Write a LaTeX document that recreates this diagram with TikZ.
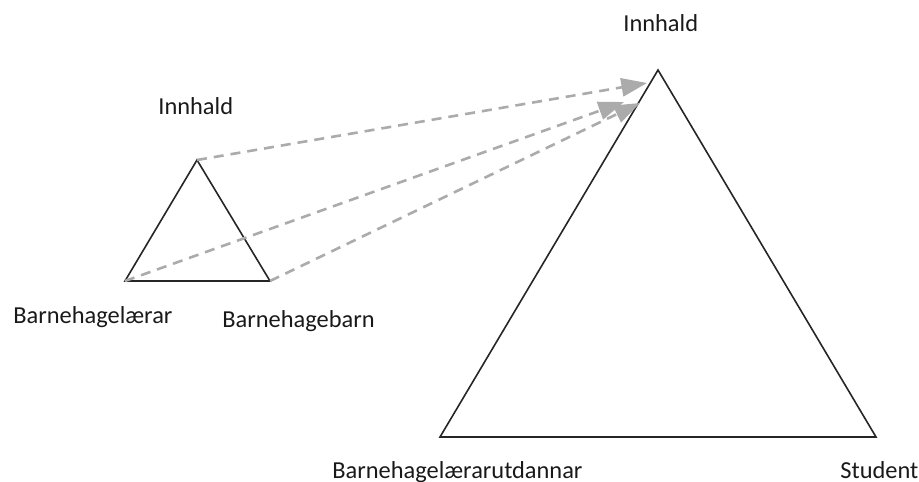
\documentclass[tikz,border=0pt]{standalone}
\usepackage{fontspec}
\setmainfont{Carlito}
\usetikzlibrary{positioning,arrows.meta,calc}
\tikzset{
  tri/.style={draw=black!85, line width=0.8pt, line join=miter},
  link/.style={-{Triangle[length=4.5mm, width=3.2mm]}, line width=1.3pt, dash pattern=on 5pt off 3.5pt, color=black!33},
  lbl/.style={font=\fontsize{12.2}{14}\selectfont, text=black!90, inner sep=0pt, anchor=base west}
}

\begin{document}
\begin{tikzpicture}[x=0.5pt, y=-0.5pt]
\useasboundingbox (0,0) rectangle (919,481);
% small triangle
\coordinate (sTop) at (197,160);
\coordinate (sLeft) at (125,281);
\coordinate (sRight) at (270,281);
\draw[tri] (sTop) -- (sRight) -- (sLeft) -- cycle;
% large triangle
\coordinate (bTop) at (658,70);
\coordinate (bLeft) at (440,437);
\coordinate (bRight) at (876,437);
\draw[tri] (bTop) -- (bRight) -- (bLeft) -- cycle;
% labels
\node[lbl] (sInn) at (158,114) {Innhald};
\node[lbl] (sLaer) at (13,323) {Barnehagelærar};
\node[lbl] (sBarn) at (222,327) {Barnehagebarn};
\node[lbl] (bInn) at (623,32) {Innhald};
\node[lbl] (bUtd) at (332,478) {Barnehagelærarutdannar};
\node[lbl] (bStud) at (840,478) {Student};
% dashed links
\coordinate (tipA) at (647,83);
\coordinate (tipB) at (624,102);
\coordinate (tipC) at (640,103);
\draw[link] (sTop) -- (tipA);
\draw[link] (sLeft) -- (tipB);
\draw[link] (sRight) -- (tipC);
\end{tikzpicture}
\end{document}
